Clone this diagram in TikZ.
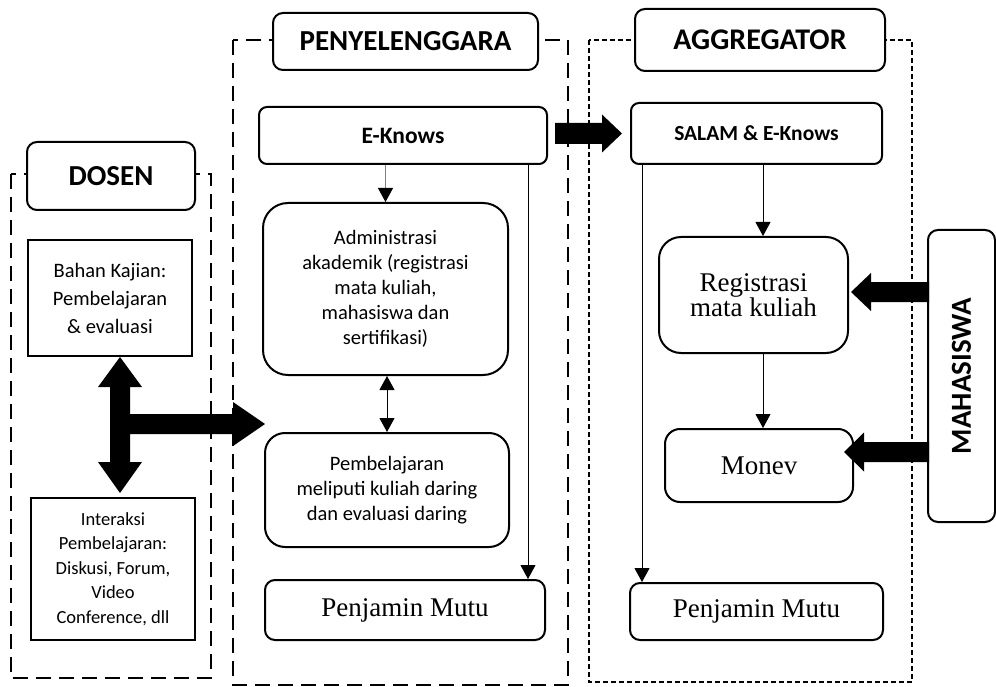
\documentclass[tikz,border=0pt]{standalone}
\usepackage{fontspec}
\setmainfont{Carlito}
\newfontfamily\tnr{Liberation Serif}
\usetikzlibrary{arrows.meta}
\tikzset{
  kotak/.style = {draw=black, line width=2pt, inner sep=0pt, align=center,
    font=\fontsize{20.5}{25}\selectfont},% kotak biasa
  kotak_b/.style = {kotak, rounded corners=8pt,
    font=\fontsize{21.5}{24}\selectfont\bfseries},% kotak sistem (tebal)
  kotak_t/.style = {kotak, rounded corners=10pt,
    font=\tnr\fontsize{27}{25}\selectfont},% kotak huruf Times
  judul/.style = {kotak, rounded corners=10pt, fill=white,
    font=\fontsize{29}{30}\selectfont\bfseries},% judul kelompok
  kelompok/.style = {line width=2pt, dash pattern=on 15pt off 8pt},% garis putus
  kelompok_t/.style = {line width=2pt, dash pattern=on 5pt off 3pt},% garis titik
  blok/.style = {fill=black},% panah tebal
}

\begin{document}
\begin{tikzpicture}[x=1pt, y=-1pt, >={Triangle[length=14pt,width=15pt]},
  line width=1pt]
\path[use as bounding box, fill=white] (0,0) rectangle (996,687);

% kelompok
\draw[kelompok] (11,174) rectangle (211,678);
\draw[kelompok] (233,40) rectangle (568,685);
\draw[kelompok_t] (589,40) rectangle (912,682);

% judul
\node[judul, minimum width=168pt, minimum height=68pt] (dosen) at (111,176) {DOSEN};
\node[judul, minimum width=265pt, minimum height=57pt] (penyelenggara) at (405.5,41.5) {PENYELENGGARA};
\node[judul, font=\fontsize{30}{30}\selectfont\bfseries, minimum width=250pt, minimum height=62pt]
  (aggregator) at (760,40) {AGGREGATOR};
\node[judul, rotate=90, minimum width=292pt, minimum height=67pt] (mahasiswa) at (961.5,376) {MAHASISWA};

% dosen
\node[kotak, font=\fontsize{20.5}{28}\selectfont, minimum width=164pt, minimum height=116pt]
  (bahan) at (110,298) {Bahan Kajian:\\Pembelajaran\\\& evaluasi};
\node[kotak, font=\fontsize{18.5}{24.5}\selectfont, minimum width=164pt, minimum height=142pt]
  (interaksi) at (113,569) {Interaksi\\Pembelajaran:\\Diskusi, Forum,\\Video\\Conference, dll};

% penyelenggara
\node[kotak_b, font=\fontsize{23.5}{24}\selectfont\bfseries, minimum width=288pt, minimum height=57pt]
  (eknows) at (403,135.5) {E-Knows};
\node[kotak, rounded corners=25pt, minimum width=245pt, minimum height=172pt]
  (admin) at (385.5,289) {Administrasi\\akademik (registrasi\\mata kuliah,\\mahasiswa dan\\sertifikasi)};
\node[kotak, rounded corners=20pt, minimum width=244pt, minimum height=114pt]
  (pembelajaran) at (387,490) {Pembelajaran\\meliputi kuliah daring\\dan evaluasi daring};
\node[kotak_t, minimum width=280pt, minimum height=60pt] (mutu_p) at (405,610) {Penjamin Mutu};

% aggregator
\node[kotak_b, minimum width=251pt, minimum height=61pt] (salam) at (756.5,133.5) {SALAM \& E-Knows};
\node[kotak_t, rounded corners=22pt, minimum width=189pt, minimum height=116pt]
  (registrasi) at (753.5,295) {Registrasi\\mata kuliah};
\node[kotak_t, rounded corners=15pt, minimum width=188pt, minimum height=73pt] (monev) at (759,465.5) {Monev};
\node[kotak_t, minimum width=253pt, minimum height=57pt] (mutu_a) at (756.5,611.5) {Penjamin Mutu};

% garis tipis
\draw[draw=gray, -{Triangle[length=14pt,width=15pt,color=black]}] (eknows.south -| admin.north) -- (admin.north);
\draw[<->] (admin.south -| pembelajaran.north) -- (pembelajaran.north);
\coordinate (k1) at ([xshift=-18pt]mutu_p.north east);
\draw[->] (eknows.south -| k1) -- (k1);
\coordinate (k2) at ([xshift=9.5pt]registrasi.north);
\draw[->] (salam.south -| k2) -- (k2);
\draw[->] (registrasi.south -| k2) -- (monev.north -| k2);
\coordinate (k3) at ([xshift=13pt]mutu_a.north west);
\draw[->] (salam.south -| k3) -- (k3);

% panah tebal
\fill[blok] ([xshift=10pt]bahan.south) -- ++(22,30) -- ++(-12,0) -- ++(0,27) -- ++(103,0)
  -- ++(0,-12) -- ++(32,22) -- ++(-32,22) -- ++(0,-12) -- ++(-103,0) -- ++(0,28)
  -- ++(12,0) -- ++(-22,31) -- ++(-22,-31) -- ++(12,0) -- ++(0,-75) -- ++(-12,0) -- cycle;
\fill[blok] ([xshift=-8pt]salam.west) -- ++(-20,-19) -- ++(0,8.5) -- ++(-47,0)
  -- ++(0,21) -- ++(47,0) -- ++(0,8.5) -- cycle;
\fill[blok] ([xshift=2pt,yshift=3pt]registrasi.east) -- ++(20,-19) -- ++(0,9) -- ++(58,0)
  -- ++(0,20) -- ++(-58,0) -- ++(0,9) -- cycle;
\fill[blok] ([xshift=-10pt,yshift=13.5pt]monev.east) -- ++(20,-19.5) -- ++(0,9.5) -- ++(65,0)
  -- ++(0,20) -- ++(-65,0) -- ++(0,9.5) -- cycle;
\end{tikzpicture}
\end{document}
